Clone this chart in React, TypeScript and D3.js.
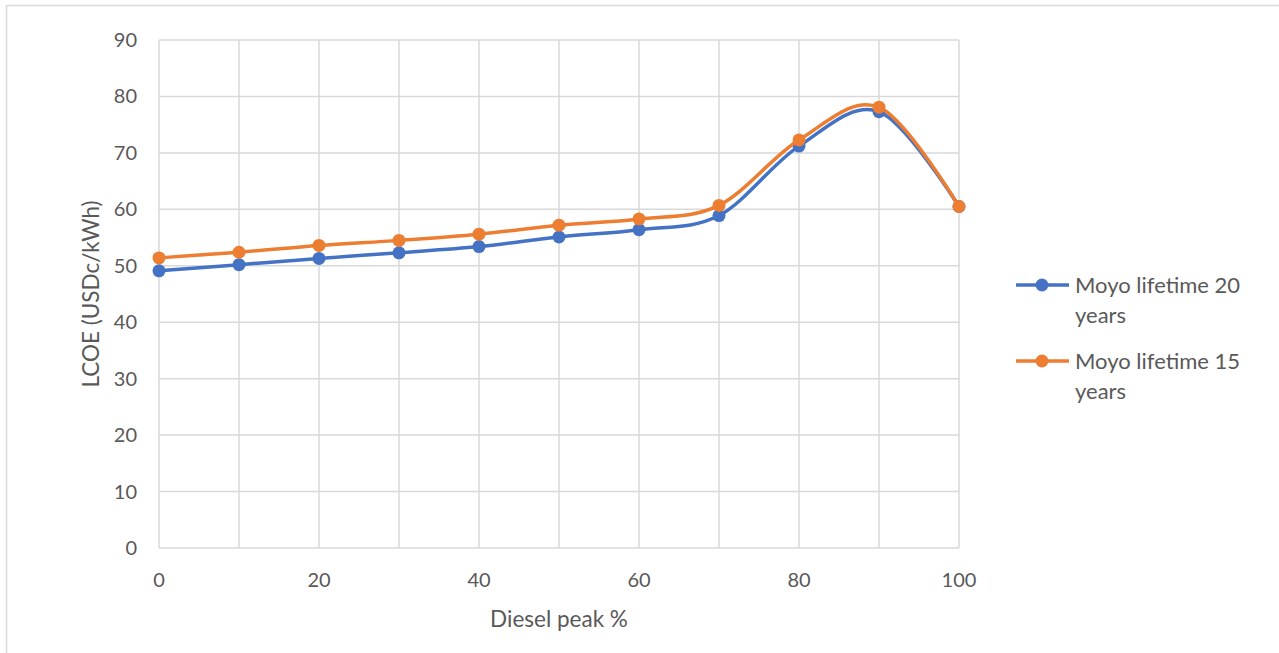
import { useRef, useEffect } from "react";
import * as d3 from "d3";

const dieselPeak = [0, 10, 20, 30, 40, 50, 60, 70, 80, 90, 100];
const lifetime20 = [49.1, 50.2, 51.3, 52.3, 53.4, 55.1, 56.4, 58.9, 71.2, 77.3, 60.5];
const lifetime15 = [51.4, 52.4, 53.6, 54.5, 55.6, 57.2, 58.3, 60.7, 72.3, 78.1, 60.5];
const seriesNames = ["Moyo lifetime 20", "Moyo lifetime 15"];
const seriesColors = ["#4472C4", "#ED7D31"];
const yTicks = [0, 10, 20, 30, 40, 50, 60, 70, 80, 90];
const xTicks = [0, 20, 40, 60, 80, 100];
const xGrid = [0, 10, 20, 30, 40, 50, 60, 70, 80, 90, 100];

const FONT = "Lato, 'Open Sans', sans-serif";

export default function App() {
  const svgRef = useRef<SVGSVGElement>(null);

  useEffect(() => {
    if (!svgRef.current) return;
    const svg = d3.select(svgRef.current);
    svg.selectAll("*").remove();

    const width = 1279;
    const height = 653;
    const margin = { top: 40, left: 159, right: 320, bottom: 105 };

    svg.attr("width", width).attr("height", height);

    // outer frame (top and left edges visible)
    svg.append("rect").attr("x", 0).attr("y", 0).attr("width", width).attr("height", height).attr("fill", "#fff");
    svg.append("path")
      .attr("d", `M6.5,${height} L6.5,5.5 L${width},5.5`)
      .attr("fill", "none").attr("stroke", "#d9d9d9").attr("stroke-width", 1.5);

    const x = d3.scaleLinear().domain([0, 100]).range([margin.left, 959]);
    const y = d3.scaleLinear().domain([0, 90]).range([548, margin.top]);

    // grid
    svg.append("g").selectAll("line").data(yTicks).join("line")
      .attr("x1", x(0)).attr("x2", x(100))
      .attr("y1", (d) => y(d)).attr("y2", (d) => y(d))
      .attr("stroke", "#d9d9d9").attr("stroke-width", 1.5);
    svg.append("g").selectAll("line").data(xGrid).join("line")
      .attr("x1", (d) => x(d)).attr("x2", (d) => x(d))
      .attr("y1", y(0)).attr("y2", y(90))
      .attr("stroke", "#d9d9d9").attr("stroke-width", 1.5);

    // tick labels
    svg.append("g").selectAll("text").data(yTicks).join("text")
      .attr("x", 137).attr("y", (d) => y(d)).attr("dy", "0.35em")
      .attr("text-anchor", "end").attr("fill", "#595959")
      .attr("font-family", FONT).attr("font-size", "20px")
      .text((d) => d);
    svg.append("g").selectAll("text").data(xTicks).join("text")
      .attr("x", (d) => x(d)).attr("y", 587)
      .attr("text-anchor", "middle").attr("fill", "#595959")
      .attr("font-family", FONT).attr("font-size", "20px")
      .text((d) => d);

    // axis titles
    svg.append("text").attr("x", x(50)).attr("y", 627)
      .attr("text-anchor", "middle").attr("fill", "#595959")
      .attr("font-family", FONT).attr("font-size", "22.5px")
      .text("Diesel peak %");
    svg.append("text")
      .attr("transform", `translate(99,${y(45)}) rotate(-90)`)
      .attr("text-anchor", "middle").attr("fill", "#595959")
      .attr("font-family", FONT).attr("font-size", "22.5px")
      .text("LCOE (USDc/kWh)");

    const line = d3.line<number>()
      .x((_, i) => x(dieselPeak[i]))
      .y((d) => y(d))
      .curve(d3.curveCatmullRom.alpha(0));

    [lifetime20, lifetime15].forEach((vals, si) => {
      const c = seriesColors[si];
      svg.append("path").datum(vals).attr("d", line)
        .attr("fill", "none").attr("stroke", c).attr("stroke-width", 3.5)
        .attr("stroke-linecap", "round");
      svg.append("g").selectAll("circle").data(vals).join("circle")
        .attr("cx", (_, i) => x(dieselPeak[i])).attr("cy", (d) => y(d))
        .attr("r", 6.5).attr("fill", c);
    });

    // legend
    const legendY = [285, 361];
    seriesNames.forEach((name, i) => {
      const g = svg.append("g").attr("transform", `translate(0,${legendY[i]})`);
      g.append("line").attr("x1", 1016).attr("x2", 1069).attr("y1", 0).attr("y2", 0)
        .attr("stroke", seriesColors[i]).attr("stroke-width", 3.5);
      g.append("circle").attr("cx", 1042).attr("cy", 0).attr("r", 6.5).attr("fill", seriesColors[i]);
      g.append("text").attr("x", 1075).attr("y", 8)
        .attr("fill", "#595959").attr("font-family", FONT).attr("font-size", "22px")
        .text(name);
      g.append("text").attr("x", 1075).attr("y", 38)
        .attr("fill", "#595959").attr("font-family", FONT).attr("font-size", "22px")
        .text("years");
    });
  }, []);

  return <svg ref={svgRef} style={{ position: "absolute", left: 0, top: 0, display: "block" }} />;
}
